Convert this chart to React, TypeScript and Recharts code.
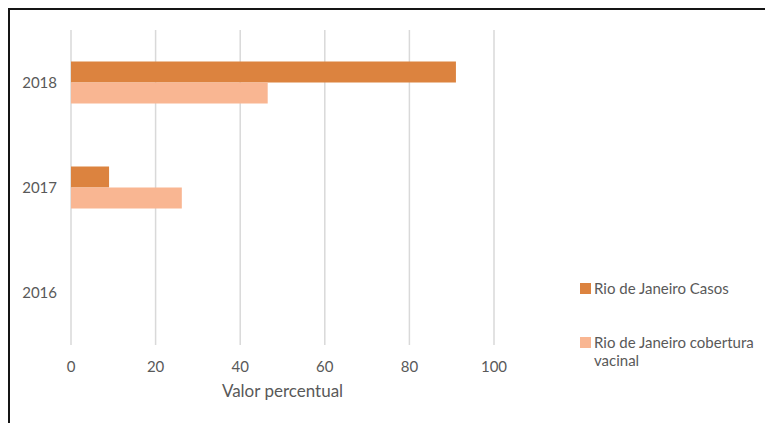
import React from "react";
import {
  BarChart,
  Bar,
  XAxis,
  YAxis,
  CartesianGrid,
  Legend,
} from "recharts";

const YEARS = ["2018", "2017", "2016"];
const CASOS = [91, 9, 0];
const COBERTURA = [46.5, 26.2, 0];
const X_TICKS = [0, 20, 40, 60, 80, 100];

const SERIES = [
  { key: "casos", label: "Rio de Janeiro Casos", color: "#DC833F" },
  { key: "cobertura", label: "Rio de Janeiro cobertura vacinal", color: "#F9B692" },
];

const data = YEARS.map((year, i) => ({
  year,
  casos: CASOS[i],
  cobertura: COBERTURA[i],
}));

const FONT = "Lato, 'Liberation Sans', sans-serif";
const TEXT = "#595959";

function LegendBox() {
  return (
    <div style={{ fontFamily: FONT, fontSize: 15, color: TEXT, lineHeight: "18px" }}>
      {SERIES.map((s, i) => (
        <div
          key={s.key}
          style={{ display: "flex", alignItems: "flex-start", marginTop: i === 0 ? 0 : 36 }}
        >
          <span
            style={{
              display: "inline-block",
              width: 11,
              height: 11,
              background: s.color,
              marginTop: 4,
              marginRight: 3,
              flex: "none",
            }}
          />
          <span style={{ width: 170 }}>{s.label}</span>
        </div>
      ))}
    </div>
  );
}

export default function App() {
  return (
    <div
      style={{
        width: 763,
        height: 413,
        borderTop: "2px solid #151515",
        borderLeft: "2px solid #151515",
        background: "#fff",
        overflow: "hidden",
      }}
    >
      <BarChart
        width={763}
        height={413}
        data={data}
        layout="vertical"
        margin={{ top: 20, right: 279, bottom: 18, left: 0 }}
        barCategoryGap="30%"
        barGap={0}
      >
        <CartesianGrid horizontal={false} stroke="#d9d9d9" strokeWidth={1.5} />
        <XAxis
          type="number"
          domain={[0, 100]}
          ticks={X_TICKS}
          axisLine={false}
          tickLine={false}
          tickMargin={10}
          height={60}
          tick={{ fill: TEXT, fontSize: 15, fontFamily: FONT }}
          label={{
            value: "Valor percentual",
            position: "insideBottom",
            offset: 8,
            fill: TEXT,
            fontSize: 17,
            fontFamily: FONT,
          }}
        />
        <YAxis
          type="category"
          dataKey="year"
          width={61}
          axisLine={false}
          tickLine={false}
          tickMargin={8}
          tick={{ fill: TEXT, fontSize: 15, fontFamily: FONT }}
        />
        {SERIES.map((s) => (
          <Bar
            key={s.key}
            dataKey={s.key}
            name={s.label}
            fill={s.color}
            isAnimationActive={false}
          />
        ))}
        <Legend
          layout="horizontal"
          verticalAlign="middle"
          align="center"
          content={() => <LegendBox />}
          wrapperStyle={{ left: 570, top: 269, width: 190 }}
        />
      </BarChart>
    </div>
  );
}
